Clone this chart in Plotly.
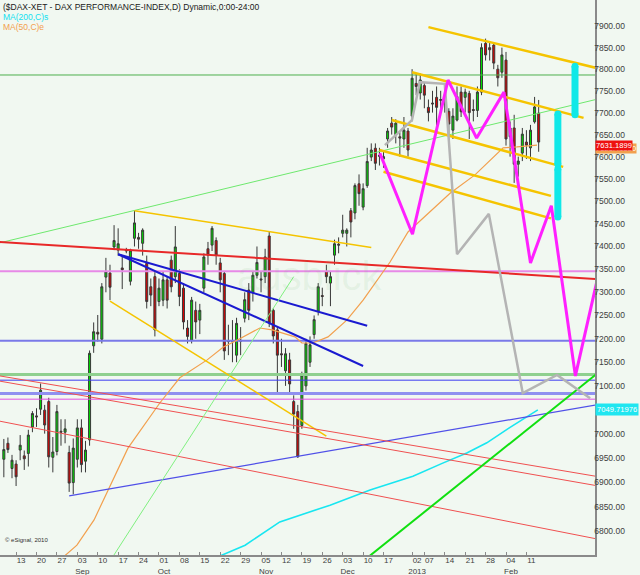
import math
import pandas as pd
import plotly.graph_objects as go

# ---------------- data ----------------
dates = ['2012-08-08','2012-08-09','2012-08-10','2012-08-13','2012-08-14','2012-08-15','2012-08-16','2012-08-17',
         '2012-08-20','2012-08-21','2012-08-22','2012-08-23','2012-08-24','2012-08-27','2012-08-28','2012-08-29',
         '2012-08-30','2012-08-31','2012-09-03','2012-09-04','2012-09-05','2012-09-06','2012-09-07','2012-09-10',
         '2012-09-11','2012-09-12','2012-09-13','2012-09-14','2012-09-17','2012-09-18','2012-09-19','2012-09-20',
         '2012-09-21','2012-09-24','2012-09-25','2012-09-26','2012-09-27','2012-09-28','2012-10-01','2012-10-02',
         '2012-10-03','2012-10-04','2012-10-05','2012-10-08','2012-10-09','2012-10-10','2012-10-11','2012-10-12',
         '2012-10-15','2012-10-16','2012-10-17','2012-10-18','2012-10-19','2012-10-22','2012-10-23','2012-10-24',
         '2012-10-25','2012-10-26','2012-10-29','2012-10-30','2012-10-31','2012-11-01','2012-11-02','2012-11-05',
         '2012-11-06','2012-11-07','2012-11-08','2012-11-09','2012-11-12','2012-11-13','2012-11-14','2012-11-15',
         '2012-11-16','2012-11-19','2012-11-20','2012-11-21','2012-11-22','2012-11-23','2012-11-26','2012-11-27',
         '2012-11-28','2012-11-29','2012-11-30','2012-12-03','2012-12-04','2012-12-05','2012-12-06','2012-12-07',
         '2012-12-10','2012-12-11','2012-12-12','2012-12-13','2012-12-14','2012-12-17','2012-12-18','2012-12-19',
         '2012-12-20','2012-12-21','2012-12-27','2012-12-28','2013-01-02','2013-01-03','2013-01-04','2013-01-07',
         '2013-01-08','2013-01-09','2013-01-10','2013-01-11','2013-01-14','2013-01-15','2013-01-16','2013-01-17',
         '2013-01-18','2013-01-21','2013-01-22','2013-01-23','2013-01-24','2013-01-25','2013-01-28','2013-01-29',
         '2013-01-30','2013-01-31','2013-02-01','2013-02-04','2013-02-05','2013-02-06','2013-02-07','2013-02-08',
         '2013-02-11','2013-02-12','2013-02-13','2013-02-14']
opens = [6947,6980,6928,6937,6966,6954,6959,7014,7037,7051,7049,7067,6951,6963,7005,7003,6961,6899,6947,7012,
         6943,6987,7185,7214,7199,7333,7342,7399,7392,7353,7390,7324,7418,7420,7407,7363,7312,7334,7280,7283,
         7327,7370,7334,7341,7309,7223,7197,7261,7240,7309,7395,7403,7413,7364,7341,7196,7194,7165,7197,7244,
         7305,7299,7337,7329,7334,7423,7261,7219,7168,7132,7155,7067,7046,7017,7100,7150,7209,7259,7293,7345,
         7320,7381,7405,7429,7429,7479,7474,7539,7487,7535,7599,7619,7603,7595,7640,7676,7650,7645,7640,7658,
         7692,7767,7745,7762,7712,7722,7735,7728,7737,7703,7660,7683,7747,7735,7744,7707,7705,7747,7860,7850,
         7856,7800,7793,7821,7645,7665,7583,7608,7633,7620,7679,7699]
highs = [6989,6992,6956,6945,6997,6965,7008,7047,7053,7105,7060,7075,6993,7060,7030,7030,6975,6990,7030,7030,
         6985,7175,7235,7251,7320,7375,7360,7447,7440,7377,7397,7395,7479,7430,7440,7380,7330,7345,7330,7345,
         7335,7380,7445,7350,7320,7240,7290,7280,7275,7385,7410,7445,7420,7375,7345,7230,7240,7245,7225,7300,
         7320,7345,7400,7345,7395,7432,7265,7225,7200,7180,7170,7080,7060,7130,7200,7205,7250,7320,7310,7360,
         7345,7415,7420,7470,7440,7485,7540,7560,7540,7620,7630,7630,7620,7615,7665,7690,7685,7655,7690,7665,
         7800,7790,7790,7770,7730,7750,7760,7750,7750,7710,7710,7760,7760,7755,7750,7730,7760,7860,7871,7865,
         7862,7810,7850,7840,7680,7695,7600,7665,7660,7672,7736,7729]
lows = [6910,6960,6908,6892,6945,6925,6932,7003,7014,7039,7000,6930,6920,6955,6975,6980,6880,6875,6930,6920,
        6920,6975,7170,7194,7190,7300,7283,7392,7380,7307,7385,7315,7400,7395,7380,7265,7270,7205,7270,7270,
        7265,7300,7320,7270,7220,7190,7190,7200,7210,7300,7360,7390,7360,7300,7155,7165,7150,7150,7165,7235,
        7240,7280,7330,7300,7320,7225,7190,7085,7140,7100,7085,7010,6950,7010,7090,7140,7200,7250,7270,7320,
        7270,7360,7385,7420,7400,7420,7460,7490,7480,7530,7590,7570,7580,7575,7620,7650,7630,7600,7620,7600,
        7680,7740,7730,7710,7680,7700,7670,7700,7700,7640,7640,7680,7690,7700,7640,7680,7690,7740,7820,7820,
        7800,7760,7780,7625,7600,7541,7555,7590,7595,7590,7675,7611]
closes = [6967,6967,6945,6911,6976,6948,6997,7042,7035,7091,7018,6952,6962,7046,7003,7010,6898,6970,7012,6936,
          6966,7169,7215,7210,7312,7345,7311,7413,7406,7349,7393,7392,7452,7416,7436,7280,7294,7219,7309,7327,
          7283,7312,7399,7291,7236,7205,7283,7236,7261,7377,7381,7440,7381,7327,7174,7194,7196,7233,7195,7284,
          7261,7337,7365,7327,7377,7234,7206,7165,7166,7168,7104,7041,6952,7123,7190,7187,7241,7312,7291,7334,
          7334,7406,7403,7436,7436,7454,7535,7517,7528,7589,7615,7585,7601,7600,7658,7667,7676,7642,7660,7615,
          7779,7760,7775,7740,7700,7720,7712,7730,7729,7674,7692,7737,7702,7747,7700,7705,7747,7850,7833,7845,
          7814,7780,7833,7640,7665,7583,7590,7651,7626,7660,7713,7633]

# moving averages (session number, value)
ma50_t = [10.7, 14.9, 19.1, 27.4, 35.2, 40.1, 46.8, 50.7, 54.1, 59.7, 62.7, 64.6, 68.3, 70.0, 72.7, 76.4,
          81.0, 85.0, 89.1, 91.6, 96.0, 106.3, 112.4, 116.8, 119.3, 122.7, 127.6]
ma50_v = [6742, 6772, 6823, 6970, 7064, 7117, 7155, 7182, 7197, 7223, 7219, 7214, 7204, 7191, 7191, 7204,
          7240, 7283, 7333, 7366, 7432, 7518, 7559, 7599, 7620, 7622, 7626]
ma200_t = [48.7, 56.1, 64.6, 76.9, 86.7, 94.0, 97.2, 104.5, 110.4, 115.3, 120.8, 127.8]
ma200_v = [6746, 6772, 6819, 6853, 6884, 6904, 6912, 6939, 6960, 6981, 7012, 7049.72]

# horizontal support / resistance levels
hline_price = [7786.5, 7346, 7196, 7124, 7112, 7084, 7072]

# trend lines (session numbers since 2012-08-13, prices)
trend_t0 = [-4, -4, 29, 23, 101, 97, 92, 89, 90, 25, 25, 13, -4, -4, -4, 85, 23]
trend_p0 = [7408, 7410, 7479, 7281, 7898, 7793, 7683, 7615, 7566, 7383, 7383, 6872, 7121, 7110, 7026, 6740, 6740]
trend_t1 = [142, 142, 87, 76, 142, 139, 134, 131, 131, 86, 85, 142, 142, 142, 142, 142, 68]
trend_p1 = [7730, 7329, 7398, 6995, 7803, 7688, 7577, 7512, 7462, 7228, 7142, 7060, 6912, 6893, 6785, 7124, 7334]

# projected paths
magenta_t = [89.1, 97.1, 105.8, 112.8, 119.5, 126.0, 131.1, 137.0, 142.7]
magenta_p = [7608, 7427, 7775, 7642, 7747, 7364, 7490, 7121, 7341]
gray_t = [90.35, 96.96, 98.9, 105.0, 108.0, 115.8, 124.1, 132.5, 140.6]
gray_p = [7626, 7683, 7770, 7766, 7383, 7472, 7085, 7123, 7074]

# cyan target bars
bar_t = [132.7, 132.7, 136.9]
bar_top = [7697, 7572, 7807]
bar_bot = [7583, 7465, 7695]

# axis ticks
tick_dates = ['2012-08-13','2012-08-20','2012-08-27','2012-09-03','2012-09-10','2012-09-17','2012-09-24',
              '2012-10-01','2012-10-08','2012-10-15','2012-10-22','2012-10-29','2012-11-05','2012-11-12',
              '2012-11-19','2012-11-26','2012-12-03','2012-12-10','2012-12-17','2013-01-02','2013-01-07',
              '2013-01-14','2013-01-21','2013-01-28','2013-02-04','2013-02-11']
tick_text = ['13','20','27','03<br>Sep','10','17','24','01<br>Oct','08','15','22','29','05<br>Nov','12',
             '19','26','03<br>Dec','10','17','02<br>2013','07','14','21','28','04<br>Feb','11']
price_ticks = [v for v in range(6800, 7951, 50) if v != 7050]   # 7050 is hidden under the MA200 tag

last_price = 7631.1899
ma50_last = 7626.4153
ma200_last = 7049.71976

# ---------------- calendar (Xetra trading days) ----------------
holidays = {'2012-12-24', '2012-12-25', '2012-12-26', '2012-12-31', '2013-01-01'}
cal = [d.strftime('%Y-%m-%d') for d in pd.bdate_range('2012-07-02', '2013-03-29')
       if d.strftime('%Y-%m-%d') not in holidays]
origin = cal.index('2012-08-13')
pos = {d: i - origin for i, d in enumerate(cal)}
sess = [pos[d] for d in dates]
tick_pos = [pos[d] for d in tick_dates]

BG = '#f1f8f1'
FONT = 'Liberation Sans'
fig = go.Figure()

XL, XR = -3.94, 141.8
YB, YT = 6752.3, 7961.8

# horizontal levels
h_colors = ['#4caf4c', '#e78ae7', '#7a7ae8', '#8fd08f', '#3c3cf0', '#9090f0', '#e050e0']
h_widths = [1, 2, 2, 3, 1, 3, 1]
for p, c, w in zip(hline_price, h_colors, h_widths):
    fig.add_trace(go.Scatter(x=[XL - 2, XR + 2], y=[p, p], mode='lines',
                             line=dict(color=c, width=w), hoverinfo='skip', showlegend=False))

# candles
fig.add_trace(go.Candlestick(
    x=sess, open=opens, high=highs, low=lows, close=closes,
    increasing=dict(fillcolor='#00dc00', line=dict(color='#383838', width=1)),
    decreasing=dict(fillcolor='#e00000', line=dict(color='#383838', width=1)),
    whiskerwidth=0, hoverinfo='skip', showlegend=False))

# moving averages
fig.add_trace(go.Scatter(x=ma50_t, y=ma50_v, mode='lines', line=dict(color='#f2a04e', width=1.2),
                         hoverinfo='skip', showlegend=False))
fig.add_trace(go.Scatter(x=ma200_t, y=ma200_v, mode='lines', line=dict(color='#18e6f0', width=1.6),
                         hoverinfo='skip', showlegend=False))

# trend lines
t_colors = ['#6ee86e', '#e82828', '#f5c400', '#f5c400', '#f5c400', '#f5c400', '#f5c400', '#f5c400',
            '#f5c400', '#1a1ad0', '#1a1ad0', '#5050e8', '#f05050', '#f05050', '#f05050', '#10e010', '#80f080']
t_widths = [1, 2, 1.5, 1.5, 2.5, 2.5, 2.5, 2.5, 2.5, 2, 2, 1.2, 1, 1, 1, 2, 1]
for a, b, c, d, col, w in zip(trend_t0, trend_p0, trend_t1, trend_p1, t_colors, t_widths):
    fig.add_trace(go.Scatter(x=[a, c], y=[b, d], mode='lines', line=dict(color=col, width=w),
                             hoverinfo='skip', showlegend=False))

# projections
fig.add_trace(go.Scatter(x=gray_t, y=gray_p, mode='lines', line=dict(color='#b4b4b4', width=2.5),
                         hoverinfo='skip', showlegend=False))
fig.add_trace(go.Scatter(x=magenta_t, y=magenta_p, mode='lines', line=dict(color='#ff20ff', width=3),
                         hoverinfo='skip', showlegend=False))

for t, a, b in zip(bar_t, bar_top, bar_bot):
    fig.add_trace(go.Scatter(x=[t, t], y=[a, b], mode='lines+markers',
                             line=dict(color='#10e8e8', width=7),
                             marker=dict(color='#10e8e8', size=7),
                             hoverinfo='skip', showlegend=False))

lg = math.log10
ann = []
ann.append(dict(x=0.002, y=1.0, xref='paper', yref='paper', xanchor='left', yanchor='top', showarrow=False,
                text='($DAX-XET - DAX PERFORMANCE-INDEX,D) Dynamic,0:00-24:00',
                font=dict(family=FONT, size=8.5, color='#202020')))
ann.append(dict(x=0.002, y=1 - 10 / 555, xref='paper', yref='paper', xanchor='left', yanchor='top',
                showarrow=False, text='MA(200,C)s', font=dict(family=FONT, size=8.5, color='#10e0f0')))
ann.append(dict(x=0.002, y=1 - 20 / 555, xref='paper', yref='paper', xanchor='left', yanchor='top',
                showarrow=False, text='MA(50,C)e', font=dict(family=FONT, size=8.5, color='#f2a04e')))
ann.append(dict(x=0.005, y=1 - 545 / 555, xref='paper', yref='paper', xanchor='left', yanchor='bottom',
                showarrow=False, text='© eSignal, 2010', font=dict(family=FONT, size=6, color='#303030')))
ann.append(dict(x=72, y=lg(7335), xref='x', yref='y', showarrow=False, text='ausblick',
                font=dict(family=FONT, size=40, color='rgba(110,180,110,0.10)')))
# value labels on the price scale
ann.append(dict(x=1.0, y=lg(ma50_last), xref='paper', yref='y', xanchor='left', yanchor='middle', showarrow=False,
                text='%.5f' % ma50_last, bgcolor='#f2a04e', font=dict(family=FONT, size=7.6, color='white'),
                borderpad=0, yshift=-4))
ann.append(dict(x=1.0, y=lg(last_price), xref='paper', yref='y', xanchor='left', yanchor='middle', showarrow=False,
                text='%.4f' % last_price, bgcolor='#ee1010', font=dict(family=FONT, size=7.6, color='white'),
                borderpad=0, yshift=-3))
ann.append(dict(x=1.0, y=lg(ma200_last), xref='paper', yref='y', xanchor='left', yanchor='middle', showarrow=False,
                text='%.5f' % ma200_last, bgcolor='#20e6f0', font=dict(family=FONT, size=7.6, color='white'),
                borderpad=1))

fig.update_layout(
    width=640, height=575, margin=dict(l=0, r=45, t=0, b=20),
    paper_bgcolor=BG, plot_bgcolor=BG, showlegend=False, hovermode=False,
    annotations=ann,
    xaxis=dict(range=[XL, XR], tickmode='array', tickvals=tick_pos, ticktext=tick_text, tickangle=0,
               showgrid=False, zeroline=False, showline=True, linecolor='#8a8a8a', linewidth=1.5,
               ticks='inside', ticklen=3, tickcolor='#8a8a8a', ticklabelshift=5, ticklabelstandoff=-3,
               tickfont=dict(family=FONT, size=8, color='#404040'), automargin=False,
               rangeslider=dict(visible=False), fixedrange=True),
    yaxis=dict(type='log', range=[lg(YB), lg(YT)], side='right', tickmode='array', tickvals=price_ticks,
               ticktext=['%.2f' % v for v in price_ticks], showgrid=False, zeroline=False, showline=True,
               linecolor='#8a8a8a', linewidth=1.5, ticks='', ticklen=0, ticklabelstandoff=-4,
               tickfont=dict(family=FONT, size=8.5, color='#404040'), automargin=False, fixedrange=True),
)

fig.write_html('out.html', config={'displayModeBar': False, 'staticPlot': True},
               post_script="document.body.style.margin='0px';document.body.style.overflow='hidden';")
